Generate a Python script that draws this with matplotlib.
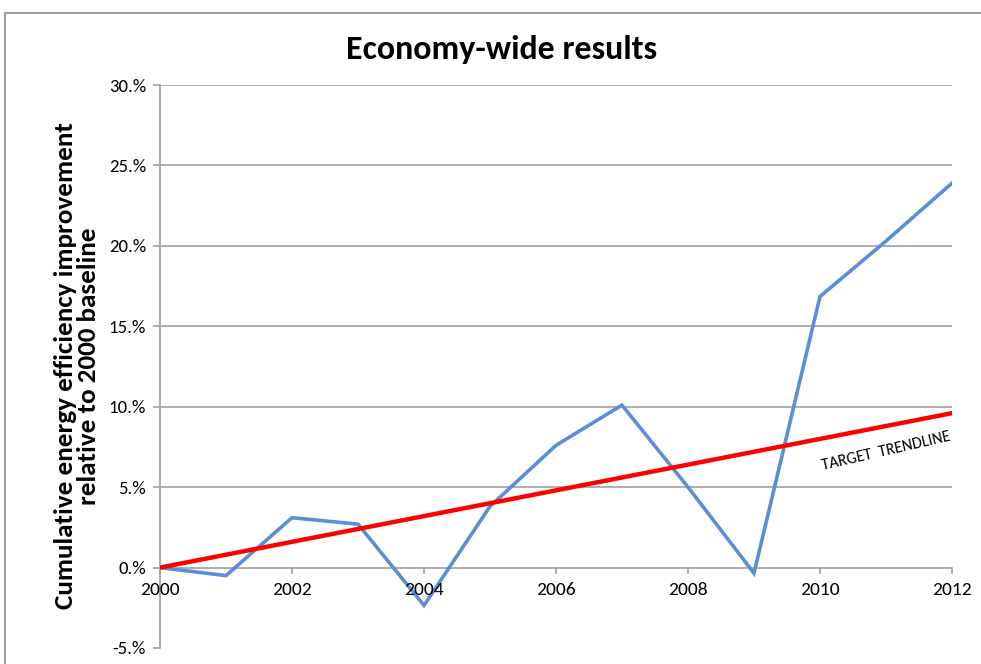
import numpy as np
import matplotlib.pyplot as plt
from matplotlib.patches import Rectangle

plt.rcParams['font.family'] = ['Carlito', 'Lato', 'DejaVu Sans']

# 数据
years = [2000, 2001, 2002, 2003, 2004, 2005, 2006, 2007, 2008, 2009, 2010, 2011, 2012]
actual = [0.0, -0.5, 3.1, 2.7, -2.35, 3.8, 7.6, 10.1, 5.0, -0.35, 16.85, 20.3, 23.9]
target_years = [2000, 2012]
target = [0.0, 9.6]
y_ticks = [-5, 0, 5, 10, 15, 20, 25, 30]
x_ticks = [2000, 2002, 2004, 2006, 2008, 2010, 2012]

fig = plt.figure(figsize=(9.81, 6.64), dpi=100)
# 外框
fig.patches.append(Rectangle((5 / 981, -0.1), 1.1, 1 - 13 / 664 + 0.1,
                             transform=fig.transFigure, fill=False,
                             edgecolor='#8c8c8c', linewidth=1.2))

ax = fig.add_axes([160 / 981, 16 / 664, 792 / 981, 563 / 664])
ax.set_xlim(2000, 2012)
ax.set_ylim(-5, 30)

for v in y_ticks[1:]:
    ax.axhline(v, color='#a0a0a0', linewidth=1.2, zorder=1)

ax.plot(years, actual, color='#5b8ed6', linewidth=2.6, zorder=3,
        solid_joinstyle='miter')
ax.plot(target_years, target, color='#ff0000', linewidth=3.2, zorder=4)

for s in ['top', 'right', 'bottom']:
    ax.spines[s].set_visible(False)
ax.spines['left'].set_color('#a0a0a0')
ax.spines['left'].set_linewidth(1.2)

ax.set_yticks(y_ticks)
ax.set_yticklabels(['%d.%%' % v for v in y_ticks])
ax.tick_params(axis='y', length=5, color='#a0a0a0', width=1.2,
               labelsize=13.5, pad=5)

# x轴刻度画在0线上
ax.set_xticks([])
for x in x_ticks:
    ax.plot([x, x], [0, -0.35], color='#a0a0a0', linewidth=1.2,
            zorder=2, clip_on=False)
    ax.text(x, -0.9, str(x), ha='center', va='top', fontsize=14)

ax.text(2011.0, 7.2, 'TARGET  TRENDLINE', rotation=13, fontsize=11.5,
        ha='center', va='center')

ax.set_ylabel('Cumulative energy efficiency improvement\nrelative to 2000 baseline',
              fontsize=19.5, fontweight='bold', linespacing=1.0)
ax.yaxis.set_label_coords(-0.076, 0.501)

fig.text(0.511, 0.925, 'Economy-wide results', ha='center', va='center',
         fontsize=24.5, fontweight='bold')

fig.savefig('out.png', dpi=100)
